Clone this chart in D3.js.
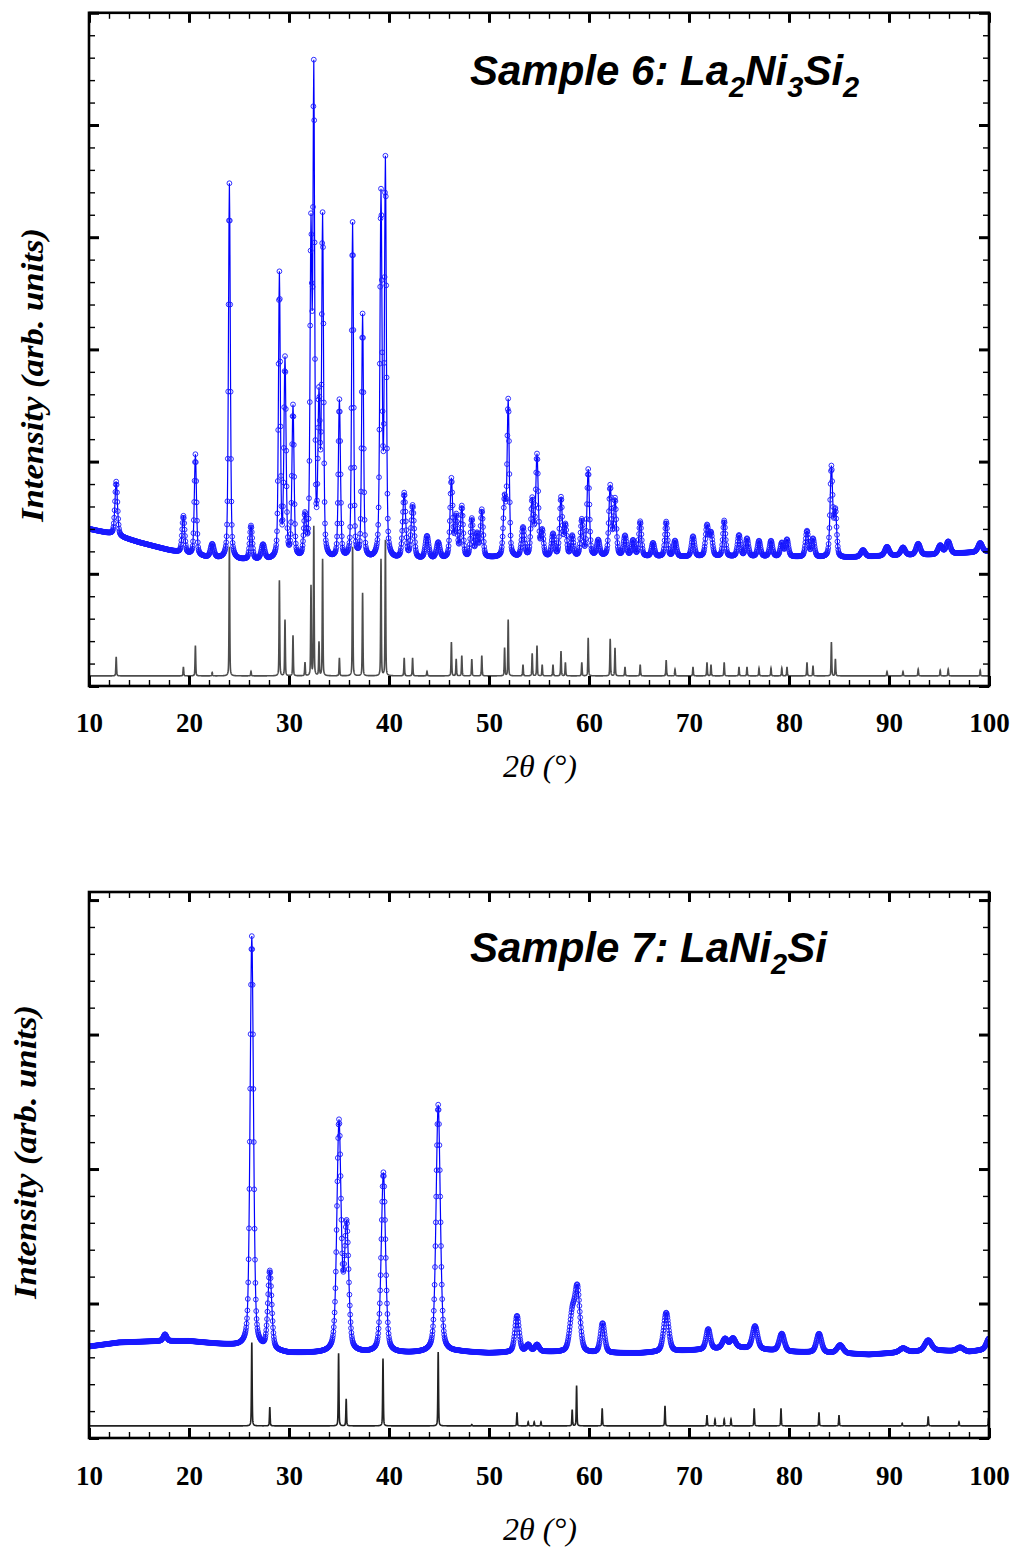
<!DOCTYPE html>
<html>
<head>
<meta charset="utf-8">
<script src="https://cdn.jsdelivr.net/npm/d3@7"></script>
<style>
  body { margin: 0; background: #fff; }
</style>
</head>
<body>
<svg id="chart" width="1018" height="1549"></svg>
<script>
// x axis (2theta, degrees)
var xMajorTicks = [10, 20, 30, 40, 50, 60, 70, 80, 90, 100];
var xMinorTicks = d3.range(10, 101, 2);

// titles: [text, isSubscript]
var title6 = [["Sample 6: La", 0], ["2", 1], ["Ni", 0], ["3", 1], ["Si", 0], ["2", 1]];
var title7 = [["Sample 7: LaNi", 0], ["2", 1], ["Si", 0]];

// sample 6 observed: background knots [2theta, I] and peaks [2theta, height, fwhm]
var bg6 = [[10, 1.40], [12, 1.36], [15, 1.28], [18, 1.21], [20, 1.17], [22, 1.14], [25, 1.12],
  [28, 1.12], [31, 1.12], [35, 1.12], [40, 1.12], [45, 1.13], [50, 1.14], [55, 1.14], [60, 1.15],
  [70, 1.15], [80, 1.15], [85, 1.14], [90, 1.16], [95, 1.17], [100, 1.20]];
var obs6Peaks = [
  [12.72, 0.48, 0.3], [19.44, 0.33, 0.3], [20.64, 0.9, 0.25], [22.32, 0.12, 0.4], [24.04, 3.35, 0.22],
  [26.2, 0.30, 0.3], [27.4, 0.13, 0.4], [29.04, 2.53, 0.22], [29.6, 1.76, 0.25], [30.4, 1.35, 0.25],
  [31.6, 0.35, 0.3], [32.2, 2.85, 0.22], [32.48, 4.23, 0.2], [33.0, 1.35, 0.25], [33.36, 3.0, 0.22],
  [35.04, 1.41, 0.25], [36.36, 2.99, 0.22], [37.36, 2.17, 0.22], [39.2, 3.22, 0.25], [39.64, 3.50, 0.22],
  [41.52, 0.58, 0.35], [42.36, 0.47, 0.35], [43.8, 0.2, 0.4], [44.92, 0.14, 0.4], [46.24, 0.70, 0.3],
  [46.72, 0.36, 0.3], [47.28, 0.45, 0.3], [48.28, 0.34, 0.3], [48.8, 0.2, 0.3], [49.28, 0.42, 0.3],
  [51.56, 0.5, 0.3], [51.92, 1.38, 0.25], [53.4, 0.26, 0.35], [54.32, 0.5, 0.3], [54.8, 0.90, 0.3],
  [55.32, 0.22, 0.3], [56.4, 0.2, 0.35], [57.2, 0.52, 0.3], [57.64, 0.27, 0.3], [58.32, 0.18, 0.3],
  [59.28, 0.32, 0.3], [59.92, 0.77, 0.28], [60.92, 0.14, 0.35], [62.12, 0.62, 0.3], [62.6, 0.5, 0.3],
  [63.6, 0.18, 0.35], [64.4, 0.14, 0.35], [65.12, 0.31, 0.3], [66.4, 0.12, 0.35], [67.72, 0.31, 0.3],
  [68.6, 0.14, 0.35], [70.4, 0.18, 0.35], [71.8, 0.27, 0.35], [72.2, 0.2, 0.35], [73.52, 0.32, 0.3],
  [75.0, 0.19, 0.35], [75.8, 0.16, 0.35], [77.0, 0.14, 0.35], [78.2, 0.14, 0.35], [79.28, 0.12, 0.35],
  [79.8, 0.15, 0.35], [81.8, 0.23, 0.35], [82.4, 0.16, 0.35], [84.24, 0.80, 0.3], [84.64, 0.4, 0.3],
  [87.4, 0.06, 0.5], [89.8, 0.08, 0.5], [91.4, 0.07, 0.5], [92.92, 0.1, 0.5], [95.12, 0.08, 0.5],
  [95.92, 0.11, 0.5], [99.12, 0.08, 0.5]];

// sample 6 calculated reference pattern: peaks [2theta, height]
var ref6Base = 0.09;
var ref6Peaks = [
  [12.72, 0.17], [19.44, 0.08], [20.64, 0.27], [22.32, 0.03], [24.04, 1.15], [26.2, 0.04], [29.04, 0.85],
  [29.6, 0.5], [30.4, 0.36], [31.6, 0.12], [32.2, 0.8], [32.48, 1.33], [33.0, 0.3], [33.36, 1.04],
  [35.04, 0.16], [36.36, 1.15], [37.36, 0.74], [39.2, 1.04], [39.64, 1.21], [41.52, 0.16], [42.36, 0.16],
  [43.8, 0.04], [46.24, 0.3], [46.72, 0.15], [47.28, 0.18], [48.28, 0.15], [49.28, 0.18], [51.56, 0.25],
  [51.92, 0.5], [53.4, 0.1], [54.32, 0.2], [54.8, 0.27], [55.32, 0.1], [56.4, 0.1], [57.2, 0.22],
  [57.64, 0.12], [59.28, 0.12], [59.92, 0.34], [62.12, 0.33], [62.6, 0.25], [63.6, 0.08], [65.12, 0.1],
  [67.72, 0.14], [68.6, 0.06], [70.4, 0.08], [71.8, 0.12], [72.2, 0.1], [73.52, 0.12], [75.0, 0.08],
  [75.8, 0.08], [77.0, 0.07], [78.2, 0.07], [79.28, 0.07], [79.8, 0.08], [81.8, 0.12], [82.4, 0.09],
  [84.24, 0.3], [84.64, 0.15], [89.8, 0.04], [91.4, 0.04], [92.92, 0.06], [95.12, 0.05], [95.92, 0.06],
  [99.12, 0.05]];

// sample 7 observed
var bg7 = [[10, 0.68], [13, 0.71], [17, 0.72], [20, 0.72], [24, 0.69], [26, 0.67], [30, 0.63],
  [33, 0.63], [38, 0.63], [42, 0.63], [47, 0.64], [50, 0.63], [55, 0.64], [60, 0.63], [65, 0.63],
  [70, 0.65], [75, 0.67], [80, 0.64], [85, 0.63], [88, 0.62], [92, 0.64], [95, 0.65], [98, 0.64],
  [100, 0.66]];
var obs7Peaks = [
  [17.6, 0.05, 0.4], [26.28, 3.06, 0.4], [28.08, 0.58, 0.45], [35.0, 1.70, 0.5], [35.76, 0.92, 0.5],
  [39.44, 1.34, 0.5], [44.92, 1.84, 0.5], [52.8, 0.27, 0.5], [53.92, 0.05, 0.5], [54.8, 0.05, 0.5],
  [58.32, 0.26, 0.6], [58.84, 0.46, 0.6], [61.36, 0.22, 0.5], [67.72, 0.29, 0.6], [71.92, 0.15, 0.5],
  [73.6, 0.07, 0.6], [74.4, 0.07, 0.6], [76.6, 0.17, 0.6], [79.28, 0.13, 0.6], [83.0, 0.14, 0.6],
  [85.12, 0.06, 0.7], [91.4, 0.03, 0.8], [93.92, 0.08, 0.8], [97.12, 0.03, 0.8], [100.0, 0.08, 0.6]];

// sample 7 calculated reference pattern
var ref7Base = 0.09;
var ref7Peaks = [
  [26.28, 0.62], [28.08, 0.14], [34.96, 0.54], [35.72, 0.2], [39.4, 0.5], [44.92, 0.55], [48.28, 0.01],
  [52.8, 0.1], [53.92, 0.03], [54.52, 0.03], [55.2, 0.03], [58.32, 0.12], [58.76, 0.3], [61.32, 0.13],
  [67.6, 0.15], [71.8, 0.08], [72.6, 0.05], [73.52, 0.05], [74.2, 0.05], [76.52, 0.13], [79.2, 0.13],
  [83.0, 0.1], [85.0, 0.08], [91.32, 0.02], [93.92, 0.07], [97.0, 0.03], [99.96, 0.06]];

var panels = [
  { top: 12.8, bottom: 686, yMax: 6, bg: bg6, obs: obs6Peaks, ref: ref6Peaks, refBase: ref6Base,
    refColor: "#4d4d4d", title: title6, titleY: 85, labelY: 375, labelX: 32, tickPad: 27, xTitleY: 777 },
  { top: 892, bottom: 1438, yMax: 4.06, bg: bg7, obs: obs7Peaks, ref: ref7Peaks, refBase: ref7Base,
    refColor: "#222", title: title7, titleY: 962, labelY: 1152, labelX: 25, tickPad: 28, xTitleY: 1540 }
];

var svg = d3.select("#chart");
var left = 89, right = 989;
var x = d3.scaleLinear().domain([10, 100]).range([left, right]);

function profile(t, c, h, w) {
  var d = (t - c) / (w / 2);
  return h * (0.6 * Math.exp(-Math.LN2 * d * d) + 0.4 / (1 + d * d));
}

panels.forEach(function(p, i) {
  var y = d3.scaleLinear().domain([0, p.yMax]).range([p.bottom, p.top]);
  var g = svg.append("g");

  g.append("clipPath").attr("id", "clip" + i)
    .append("rect").attr("x", left).attr("y", p.top)
    .attr("width", right - left).attr("height", p.bottom - p.top);

  var bgScale = d3.scaleLinear().domain(p.bg.map(function(d) { return d[0]; }))
    .range(p.bg.map(function(d) { return d[1]; }));

  var obsPts = d3.range(0, 2251).map(function(k) {
    var t = 10 + k * 0.04;
    var v = bgScale(t);
    p.obs.forEach(function(pk) { v += profile(t, pk[0], pk[1], pk[2]); });
    return [t, v];
  });
  var refPts = d3.range(0, 9001).map(function(k) {
    var t = 10 + k * 0.01;
    var v = p.refBase;
    p.ref.forEach(function(pk) { v += profile(t, pk[0], pk[1], 0.08); });
    return [t, v];
  });

  var line = d3.line().x(function(d) { return x(d[0]); }).y(function(d) { return y(d[1]); });
  var plot = g.append("g").attr("clip-path", "url(#clip" + i + ")");

  plot.append("path").datum(obsPts)
    .attr("fill", "none").attr("stroke", "#0000ff").attr("stroke-width", 1.2)
    .attr("d", line);
  plot.append("g").selectAll("circle").data(obsPts).join("circle")
    .attr("cx", function(d) { return x(d[0]); })
    .attr("cy", function(d) { return y(d[1]); })
    .attr("r", 2.4)
    .attr("fill", "none").attr("stroke", "#1a1aff").attr("stroke-width", 0.9);

  plot.append("path").datum(refPts)
    .attr("fill", "none").attr("stroke", p.refColor).attr("stroke-width", 1.6)
    .attr("d", line);

  // axes: ticks drawn inward on all four sides
  var yMinor = d3.range(0, p.yMax + 0.001, 0.2);
  var yMajor = d3.range(0, p.yMax + 0.001, 1);
  var axes = [
    [d3.axisBottom(x), "translate(0," + p.bottom + ")", xMinorTicks, xMajorTicks],
    [d3.axisTop(x), "translate(0," + p.top + ")", xMinorTicks, xMajorTicks],
    [d3.axisLeft(y), "translate(" + left + ",0)", yMinor, yMajor],
    [d3.axisRight(y), "translate(" + right + ",0)", yMinor, yMajor]
  ];
  axes.forEach(function(a) {
    var minor = a[0].tickValues(a[2]).tickSizeInner(-6).tickSizeOuter(0).tickFormat("");
    g.append("g").attr("transform", a[1]).call(minor)
      .call(function(s) { s.select(".domain").remove(); })
      .selectAll("line").attr("stroke", "#000").attr("stroke-width", 1.4);
    var major = a[0].tickValues(a[3]).tickSizeInner(-10).tickFormat("");
    g.append("g").attr("transform", a[1]).call(major)
      .call(function(s) { s.select(".domain").remove(); })
      .selectAll("line").attr("stroke", "#000").attr("stroke-width", 3);
  });

  var labels = d3.axisBottom(x).tickValues(xMajorTicks).tickSize(0).tickPadding(p.tickPad)
    .tickFormat(d3.format("d"));
  g.append("g").attr("transform", "translate(0," + p.bottom + ")").call(labels)
    .call(function(s) { s.select(".domain").remove(); })
    .selectAll("text")
    .attr("font-family", "'Liberation Serif', 'Times New Roman', serif")
    .attr("font-weight", "bold").attr("font-size", 27).attr("fill", "#000");

  g.append("rect").attr("x", left).attr("y", p.top)
    .attr("width", right - left).attr("height", p.bottom - p.top)
    .attr("fill", "none").attr("stroke", "#000").attr("stroke-width", 2.6);

  // title with subscripts
  var tt = g.append("text").attr("x", 470).attr("y", p.titleY)
    .attr("font-family", "'Liberation Sans', Arial, sans-serif")
    .attr("font-weight", "bold").attr("font-style", "italic").attr("font-size", 42).attr("fill", "#000");
  var down = false;
  p.title.forEach(function(part) {
    var ts = tt.append("tspan").text(part[0]);
    if (part[1]) { ts.attr("font-size", 29).attr("dy", 12); down = true; }
    else if (down) { ts.attr("dy", -12); down = false; }
  });

  g.append("text")
    .attr("transform", "translate(" + p.labelX + "," + p.labelY + ") rotate(-90)")
    .attr("text-anchor", "middle").attr("dy", "0.35em")
    .attr("font-family", "'Liberation Serif', 'Times New Roman', serif")
    .attr("font-weight", "bold").attr("font-style", "italic").attr("font-size", 31)
    .attr("textLength", 294).attr("lengthAdjust", "spacingAndGlyphs")
    .text("Intensity (arb. units)");

  g.append("text").attr("x", 540).attr("y", p.xTitleY).attr("text-anchor", "middle")
    .attr("font-family", "'Liberation Serif', 'Times New Roman', serif")
    .attr("font-style", "italic").attr("font-size", 32)
    .text("2\u03B8 (\u00B0)");
});
</script>
</body>
</html>
